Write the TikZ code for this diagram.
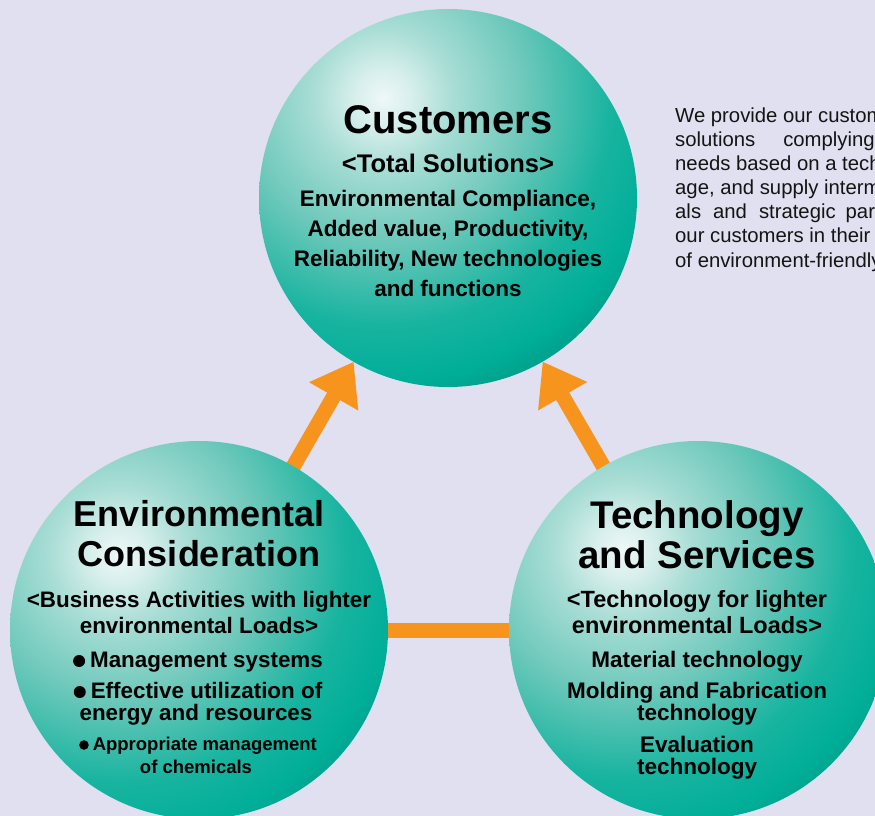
\documentclass[tikz,border=0pt]{standalone}
\usepackage{fontspec}
\setmainfont{Liberation Sans}
\usetikzlibrary{arrows.meta,calc}
\definecolor{bgc}{HTML}{E0E0F0}
\definecolor{org}{HTML}{F7941D}
\definecolor{sa}{HTML}{EEF8F8}
\definecolor{sb}{HTML}{D8EFEC}
\definecolor{sc}{HTML}{A8DDD5}
\definecolor{sd}{HTML}{70C9BC}
\definecolor{se}{HTML}{40BDAC}
\definecolor{sf}{HTML}{18B4A0}
\definecolor{sg}{HTML}{00AE98}
\definecolor{sh}{HTML}{00A48E}
\pgfdeclareradialshading{sph}{\pgfpoint{0bp}{0bp}}{color(0bp)=(sa); color(2.2bp)=(sb); color(5.5bp)=(sc); color(10.9bp)=(sd); color(14.7bp)=(se); color(17.7bp)=(sf); color(22.1bp)=(sg); color(23.6bp)=(sh); color(50bp)=(sh)}
\pgfdeclarelayer{back}
\pgfdeclarelayer{conn}
\pgfsetlayers{back,conn,main}
\newcommand{\myfs}[1]{\fontsize{#1}{#1}\selectfont}
\newcommand{\bulbig}{\tikz[baseline=0pt]\fill[black] (0pt,6pt) circle (6pt);\hspace{5pt}}
\newcommand{\bulsmall}{\tikz[baseline=0pt]\fill[black] (0pt,5pt) circle (4.8pt);\hspace{4pt}}
\tikzset{
  sphere/.style={circle, minimum size=378pt, inner sep=0pt, outer sep=0pt,
    path picture={\shade[shading=sph] ($(path picture bounding box.center)+(#1)$) circle (320pt);}},
  link/.style={draw=org, line width=15pt},
  arrowlink/.style={link, -{Triangle[length=40pt,width=54pt]}},
  txt/.style={inner sep=0pt, anchor=base, text=black},
  title/.style={txt, font=\bfseries\myfs{#1}},
  body/.style={txt, font=\bfseries\myfs{#1}},
  para/.style={inner sep=0pt, anchor=base west, text=black!92, font=\myfs{20.3}}
}
\begin{document}
\begin{tikzpicture}[x=1pt,y=-1pt]
\clip (0,0) rectangle (875,816);
\begin{pgfonlayer}{back}
\fill[bgc] (0,0) rectangle (875,816);
\end{pgfonlayer}
% spheres
\node[sphere={-65,-100}] (top) at (448,198) {};
\node[sphere={-80,-75}] (left) at (199,630) {};
\node[sphere={-75,-80}] (right) at (698,630) {};
% connectors
\begin{pgfonlayer}{conn}
\draw[link] (left.center) -- (right.center);
\draw[arrowlink] (left.center) -- (top);
\draw[arrowlink] (right.center) -- (top);
\end{pgfonlayer}
% top texts
\node[title=40] (t1) at (448,133) {Customers};
\node[body=25.5] (t2) at (448,172) {<Total Solutions>};
\node[body=22.5] (t3) at (448,206) {Environmental Compliance,};
\node[body=22.5] (t4) at (448,236) {Added value, Productivity,};
\node[body=22.5] (t5) at (448,266) {Reliability, New technologies};
\node[body=22.5] (t6) at (448,296) {and functions};
% left texts
\node[title=36] (l1) at (199,526) {Environmental};
\node[title=36] (l2) at (199,566) {Consideration};
\node[body=22.4] (l3) at (199,607) {<Business Activities with lighter};
\node[body=22.4] (l4) at (199,633) {environmental Loads>};
\node[body=22.4] (l5) at (198,667) {\bulbig Management systems};
\node[body=22.4] (l6) at (198,698) {\bulbig Effective utilization of};
\node[body=22.4] (l7) at (196,720) {energy and resources};
\node[body=18.5] (l8) at (198,750) {\bulsmall Appropriate management};
\node[body=18.5] (l9) at (196,773) {of chemicals};
% right texts
\node[title=38.5] (r1) at (697,528) {Technology};
\node[title=38.5] (r2) at (697,568) {and Services};
\node[body=23.5] (r3) at (697,607) {<Technology for lighter};
\node[body=23.5] (r4) at (697,633) {environmental Loads>};
\node[body=22.5] (r5) at (697,667) {Material technology};
\node[body=22.5] (r6) at (697,698) {Molding and Fabrication};
\node[body=22.5] (r7) at (697,720) {technology};
\node[body=22.5] (r8) at (697,752) {Evaluation};
\node[body=22.5] (r9) at (697,774) {technology};
% paragraph
\node[para] (p1) at (675,122) {We provide our customers};
\node[para] (p2) at (675,146.2) {solutions\hspace{28pt}complying};
\node[para] (p3) at (675,170.3) {needs based on a technological};
\node[para] (p4) at (675,194.5) {age, and supply intermediate};
\node[para] (p5) at (675,218.7) {als\hspace{12pt}and\hspace{12pt}strategic\hspace{10pt}parts};
\node[para] (p6) at (675,242.8) {our customers in their};
\node[para] (p7) at (675,267) {of environment-friendly};
\end{tikzpicture}
\end{document}
